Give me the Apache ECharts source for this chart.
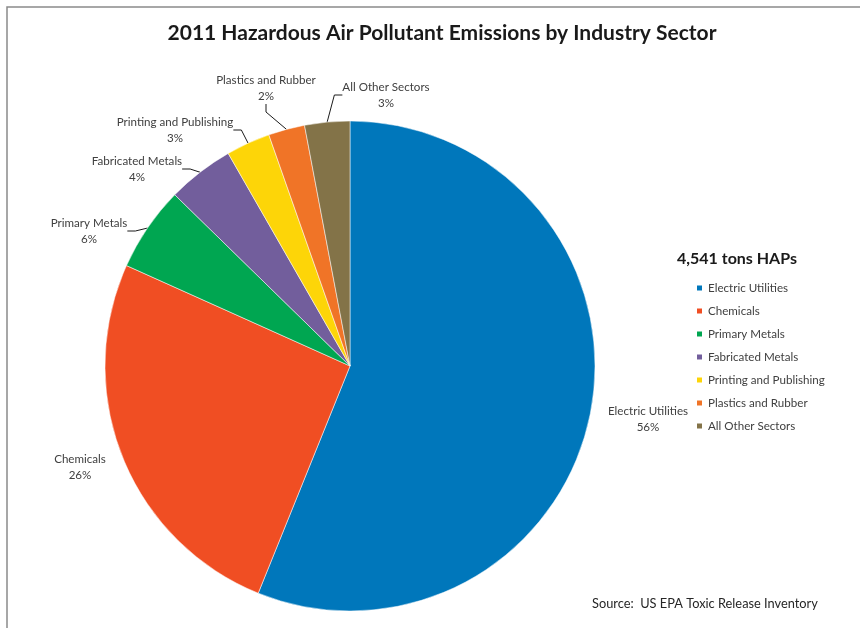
<!DOCTYPE html>
<html>
<head>
<meta charset="utf-8">
<script src="https://cdn.jsdelivr.net/npm/echarts@6/dist/echarts.min.js"></script>
<style>
  html, body { margin: 0; padding: 0; background: #fff; }
  #chart { width: 860px; height: 628px; }
</style>
</head>
<body>
<div id="chart"></div>
<script>
const sectors = ['Electric Utilities', 'Chemicals', 'Primary Metals', 'Fabricated Metals', 'Printing and Publishing', 'Plastics and Rubber', 'All Other Sectors']
// tons of HAPs, total 4,541
const tons = [2548, 1163, 254, 200, 132, 109, 135]
const colors = ['#0077bb', '#f04e23', '#00a651', '#725e9c', '#fdd508', '#f07427', '#837348']
// where each label box sits (center of the two-line text)
const labelPos = [[648, 419], [80, 467], [89, 231], [137, 169], [175, 130], [266, 88], [386, 95]]
const noLine = [0, 1]

const font = 'Lato, "Open Sans", sans-serif'
const myChart = echarts.init(document.getElementById('chart'))

const option = {
  animation: false,
  color: colors,
  title: {
    text: '2011 Hazardous Air Pollutant Emissions by Industry Sector',
    left: 437,
    top: 18,
    textAlign: 'center',
    textStyle: { fontFamily: font, fontSize: 21, fontWeight: 'bold', color: '#1a1a1a' }
  },
  legend: {
    orient: 'vertical',
    left: 690,
    top: 276,
    itemWidth: 7,
    itemHeight: 7,
    itemGap: 9,
    icon: 'rect',
    data: sectors,
    textStyle: { fontFamily: font, fontSize: 11.6, color: '#404040', lineHeight: 14 }
  },
  graphic: [
    {
      type: 'polyline',
      shape: { points: [[7, 628], [7, 7], [860, 7]] },
      style: { stroke: '#8a8a8a', lineWidth: 1.5, fill: null }
    },
    {
      type: 'text',
      x: 737,
      y: 259,
      style: { text: '4,541 tons HAPs', align: 'center', verticalAlign: 'middle',
        font: 'bold 16px ' + font, fill: '#1a1a1a' }
    },
    {
      type: 'text',
      x: 592,
      y: 604,
      style: { text: 'Source:  US EPA Toxic Release Inventory', verticalAlign: 'middle',
        font: '12.8px ' + font, fill: '#262626' }
    }
  ],
  series: [
    {
      type: 'pie',
      center: [350, 366],
      radius: 245,
      startAngle: 90,
      clockwise: true,
      percentPrecision: 0,
      itemStyle: { borderColor: '#ffffff', borderWidth: 0.5 },
      label: {
        show: true,
        position: 'outside',
        formatter: '{b}\n{d}%',
        fontFamily: font,
        fontSize: 11.6,
        lineHeight: 16,
        color: '#404040',
        align: 'center'
      },
      labelLine: {
        show: true,
        length: 10,
        length2: 8,
        lineStyle: { color: '#1a1a1a', width: 1 }
      },
      labelLayout: (params) => {
        const p = labelPos[params.dataIndex]
        return { x: p[0], y: p[1], align: 'center', verticalAlign: 'middle' }
      },
      data: sectors.map((name, i) => ({
        name: name,
        value: tons[i],
        labelLine: { show: noLine.indexOf(i) < 0 }
      }))
    }
  ]
}
myChart.setOption(option)
</script>
</body>
</html>
